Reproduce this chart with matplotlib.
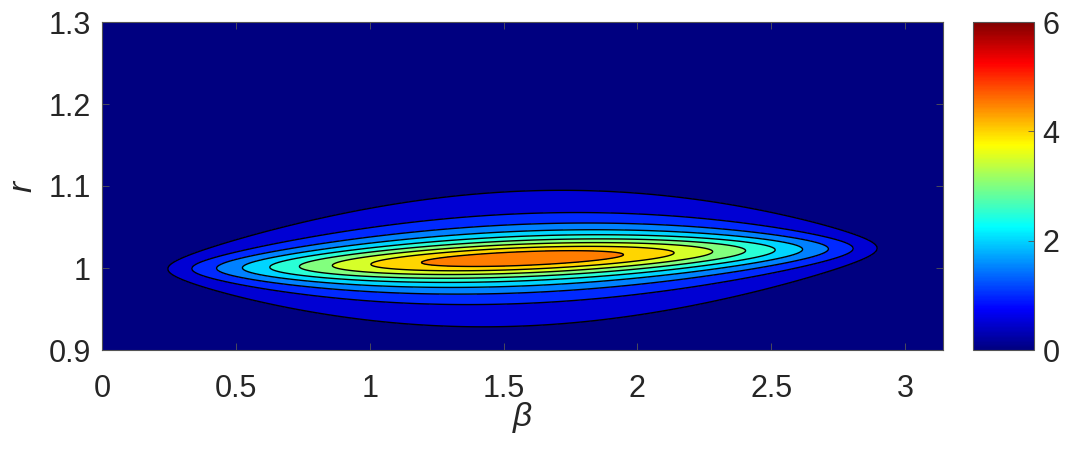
import numpy as np
import matplotlib
matplotlib.use('Agg')
import matplotlib.pyplot as plt
from matplotlib.colors import LinearSegmentedColormap, Normalize
from matplotlib.cm import ScalarMappable

# grid of the field
beta = np.linspace(0, np.pi, 700)
r = np.linspace(0.9, 1.3, 700)

# shape
peak_amp = 5.83       # amplitude of the sin(beta) profile
peak_offset = 0.92    # offset subtracted from it
ridge_r0 = 1.0115     # ridge position r = ridge_r0 - ridge_tilt * cos(beta)
ridge_tilt = 0.013
ridge_width = 0.0277  # half width of the r profile at beta = pi/2
width_power = 0.4     # width shrinks as sin(beta)**width_power

levels = [0, 0.5, 1.0, 1.5, 2.0, 2.5, 3.0, 3.5, 4.0, 4.5, 6.0]
cbar_ticks = [0, 2, 4, 6]
xticks = [0, 0.5, 1, 1.5, 2, 2.5, 3]
yticks = [0.9, 1.0, 1.1, 1.2, 1.3]
yticklabels = ['0.9', '1', '1.1', '1.2', '1.3']

B, R = np.meshgrid(beta, r)
g = np.clip(peak_amp * np.sin(B) - peak_offset, 0, None)
w = ridge_width * np.clip(np.sin(B), 1e-3, None) ** width_power
Z = g / (1 + ((R - (ridge_r0 - ridge_tilt * np.cos(B))) / w) ** 2)

# matlab style jet
jet_m = LinearSegmentedColormap('jet_m', {
    'red':   [(0, 0, 0), (3/8, 0, 0), (5/8, 1, 1), (7/8, 1, 1), (1, 0.5, 0.5)],
    'green': [(0, 0, 0), (1/8, 0, 0), (3/8, 1, 1), (5/8, 1, 1), (7/8, 0, 0), (1, 0, 0)],
    'blue':  [(0, 0.5, 0.5), (1/8, 1, 1), (3/8, 1, 1), (5/8, 0, 0), (1, 0, 0)],
}, N=256)
cmin, cmax = 0, 6
fill_colors = [jet_m((l - cmin) / (cmax - cmin)) for l in levels[:-1]]

plt.rcParams['font.family'] = ['Liberation Sans', 'DejaVu Sans']
txt = '#262626'

fig = plt.figure(figsize=(10.68, 4.49), dpi=100)
ax = fig.add_axes([102/1068, 99/449, 841/1068, 328/449])
ax.contourf(B, R, Z, levels=levels, colors=fill_colors)
ax.contour(B, R, Z, levels=levels[1:-1], colors='k', linewidths=1.0)

ax.set_xlim(0, np.pi)
ax.set_ylim(0.9, 1.3)
ax.set_xticks(xticks)
ax.set_xticklabels([('%g' % t) for t in xticks])
ax.set_yticks(yticks)
ax.set_yticklabels(yticklabels)
ax.tick_params(direction='in', top=True, right=True, length=5, width=0.6,
               color='#555555', labelsize=22, labelcolor=txt)
ax.tick_params(axis='x', pad=17)
ax.tick_params(axis='y', pad=8)
for s in ax.spines.values():
    s.set_color('#555555')
    s.set_linewidth(0.8)
ax.set_xlabel('β', fontsize=24, style='italic', color=txt, labelpad=-1)
ax.set_ylabel('r', fontsize=24, style='italic', color=txt, labelpad=7)

cax = fig.add_axes([973/1068, 99/449, 61/1068, 328/449])
sm = ScalarMappable(norm=Normalize(cmin, cmax), cmap=jet_m)
cb = fig.colorbar(sm, cax=cax, ticks=cbar_ticks)
cb.outline.set_edgecolor('#555555')
cb.outline.set_linewidth(0.8)
cax.tick_params(direction='in', length=4, width=0.6, color='#555555',
                labelsize=22, labelcolor=txt, pad=6)

fig.savefig('out.png', dpi=100)
